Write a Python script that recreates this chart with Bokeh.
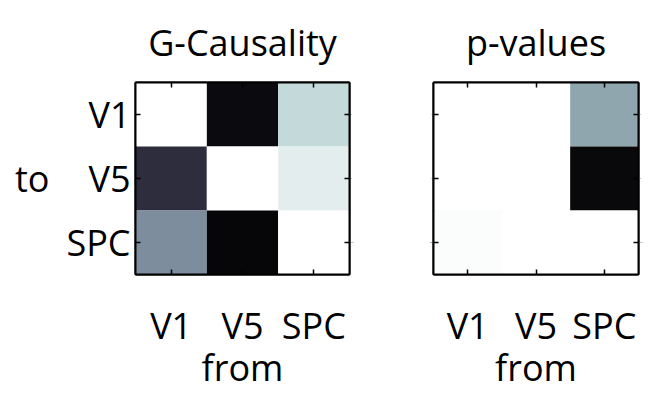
import numpy as np
from bokeh.plotting import figure
from bokeh.layouts import row
from bokeh.models import ColumnDataSource, LinearColorMapper, CategoricalAxis
from bokeh.transform import transform
from bokeh.embed import file_html
from bokeh.resources import INLINE

# ---- data ----
regions = ["V1", "V5", "SPC"]
# rows = "to" region, columns = "from" region
gc_v1 = [0.00, 0.95, 0.17]
gc_v5 = [0.80, 0.00, 0.08]
gc_spc = [0.44, 0.97, 0.00]
pv_v1 = [0.00, 0.00, 0.36]
pv_v5 = [0.00, 0.00, 0.96]
pv_spc = [0.015, 0.00, 0.00]

FONT = "Open Sans"
FS = "36px"

# reversed "bone" colormap
t = np.linspace(0, 1, 256)
r = np.interp(t, [0, 0.746032, 1], [0, 0.652778, 1])
g = np.interp(t, [0, 0.365079, 0.746032, 1], [0, 0.319444, 0.777778, 1])
b = np.interp(t, [0, 0.365079, 1], [0, 0.444444, 1])
bone = ["#%02x%02x%02x" % (int(round(a * 255)), int(round(c * 255)), int(round(d * 255)))
        for a, c, d in zip(r, g, b)]
palette = bone[::-1]
blank = {f: " " for f in regions}


def make_source(rows):
    xs, ys, vs = [], [], []
    for to, vals in zip(regions, rows):
        for fr, v in zip(regions, vals):
            xs.append(fr)
            ys.append(to)
            vs.append(v)
    return ColumnDataSource(dict(frm=xs, to=ys, value=vs))


def make_plot(title, rows, width, height, mb_left, mb_right, mb_top, mb_bottom,
              ylabels, xstand, xlab_stand):
    p = figure(width=width, height=height, x_range=regions, y_range=regions[::-1],
               output_backend="svg", toolbar_location=None, tools="",
               min_border_left=mb_left, min_border_right=mb_right,
               min_border_top=mb_top, min_border_bottom=mb_bottom,
               x_axis_location="below", y_axis_location="left")
    p.title.text = title
    p.title.text_font = FONT
    p.title.text_font_size = FS
    p.title.text_font_style = "normal"
    p.title.text_color = "black"
    p.title.align = "center"
    p.title.standoff = 22
    mapper = LinearColorMapper(palette=palette, low=0, high=1)
    p.rect(x="frm", y="to", width=1, height=1, source=make_source(rows),
           fill_color=transform("value", mapper), line_color=None)
    p.grid.visible = False
    p.outline_line_color = "black"
    p.outline_line_width = 2
    p.background_fill_color = "white"
    p.border_fill_color = "white"

    for ax in [p.xaxis[0], p.yaxis[0]]:
        ax.major_label_text_font = FONT
        ax.major_label_text_font_size = FS
        ax.major_label_text_color = "black"
        ax.major_label_text_line_height = 1.0
        ax.axis_label_text_font = FONT
        ax.axis_label_text_font_size = FS
        ax.axis_label_text_font_style = "normal"
        ax.axis_label_text_color = "black"
        ax.axis_label_text_line_height = 1.0
        ax.axis_line_color = "black"
        ax.axis_line_width = 2
        ax.major_tick_in = 5
        ax.major_tick_out = 0
        ax.major_tick_line_width = 1.5
    p.xaxis[0].axis_label = "from"
    p.xaxis[0].major_label_standoff = xstand
    p.xaxis[0].axis_label_standoff = xlab_stand
    if ylabels:
        p.yaxis[0].axis_label = "to"
        p.yaxis[0].axis_label_orientation = "horizontal"
        p.yaxis[0].major_label_standoff = 5
        p.yaxis[0].axis_label_standoff = 14
    else:
        p.yaxis[0].major_label_overrides = blank
        p.yaxis[0].major_label_text_font_size = "2px"
        p.yaxis[0].major_label_standoff = 0

    for side in ["above", "right"]:
        ax = CategoricalAxis(major_label_overrides=blank,
                             major_label_text_font_size="2px",
                             major_label_standoff=0,
                             axis_line_color="black", axis_line_width=2,
                             major_tick_in=5, major_tick_out=0, major_tick_line_width=1.5)
        p.add_layout(ax, side)
    return p


p1 = make_plot("G-Causality", [gc_v1, gc_v5, gc_spc], 400, 394, 135, 51, 81, 111,
               True, 26, -10)
p2 = make_plot("p-values", [pv_v1, pv_v5, pv_spc], 263, 394, 33, 25, 82, 60,
               False, 26, -10)

layout = row(p1, p2)
open("out.html", "w").write(file_html(layout, INLINE))
